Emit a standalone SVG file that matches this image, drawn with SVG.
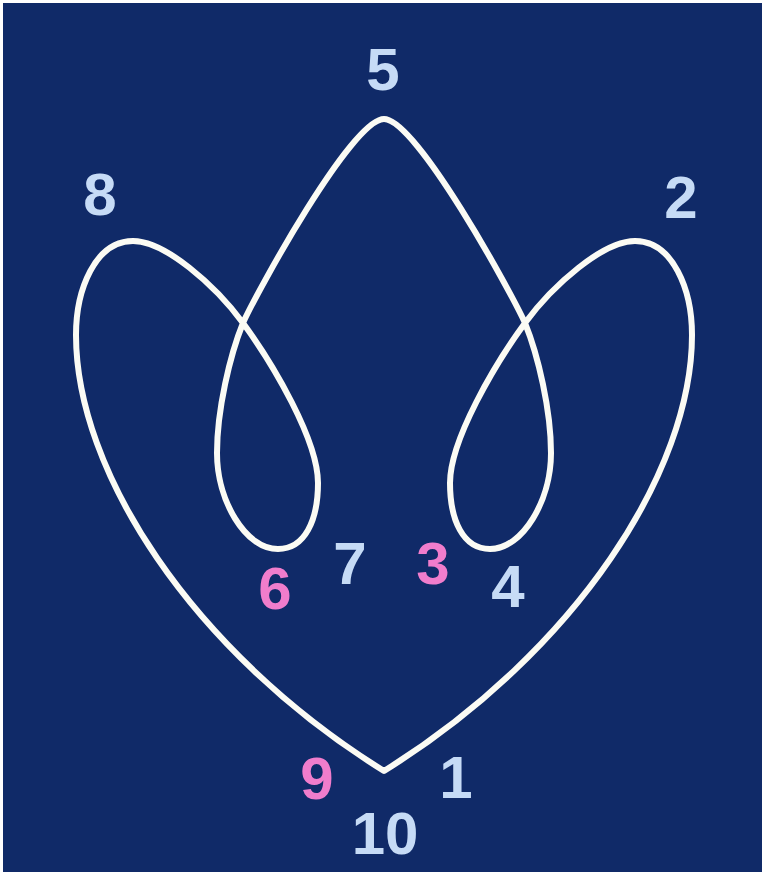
<svg xmlns="http://www.w3.org/2000/svg" width="762" height="875" viewBox="0 0 762 875">
<style>
.curve{fill:none;stroke:#fbfbf4;stroke-width:6;stroke-linejoin:round;stroke-linecap:round}
.lbl{font-family:"Liberation Sans",Arial,sans-serif;font-weight:bold;font-size:60px;text-anchor:middle}
.blue{fill:#c6dbf6}
.pink{fill:#f07dcc}
</style>
<rect x="0" y="0" width="762" height="875" fill="#ffffff"/>
<rect x="3" y="3" width="759" height="869" fill="#102a68"/>
<g id="connectors">
<path class="curve" d="M384,771 C190,650 76,470 76,335 C76,290 95,241 133,241 C165,241 215,285 243,323 C273,364 318,440 318,483 C318,520 305,549 278,549 C245,549 217,500 217,453 C217,410 230,355 243,323 C258,290 352,119 384,119 C416,119 510,290 525,323 C538,355 551,410 551,453 C551,500 523,549 490,549 C463,549 450,520 450,483 C450,440 495,364 525,323 C553,285 603,241 635,241 C673,241 692,290 692,335 C692,470 578,650 384,771 Z"/>
</g>
<g id="n5"><text class="lbl blue" x="383" y="90">5</text></g>
<g id="n8"><text class="lbl blue" x="100" y="215">8</text></g>
<g id="n2"><text class="lbl blue" x="681" y="218">2</text></g>
<g id="n7"><text class="lbl blue" x="350" y="584">7</text></g>
<g id="n3"><text class="lbl pink" x="433" y="584">3</text></g>
<g id="n6"><text class="lbl pink" x="275" y="609">6</text></g>
<g id="n4"><text class="lbl blue" x="508" y="607">4</text></g>
<g id="n9"><text class="lbl pink" x="317" y="799">9</text></g>
<g id="n1"><text class="lbl blue" x="456" y="798">1</text></g>
<g id="n10"><text class="lbl blue" x="385" y="854">10</text></g>
</svg>
